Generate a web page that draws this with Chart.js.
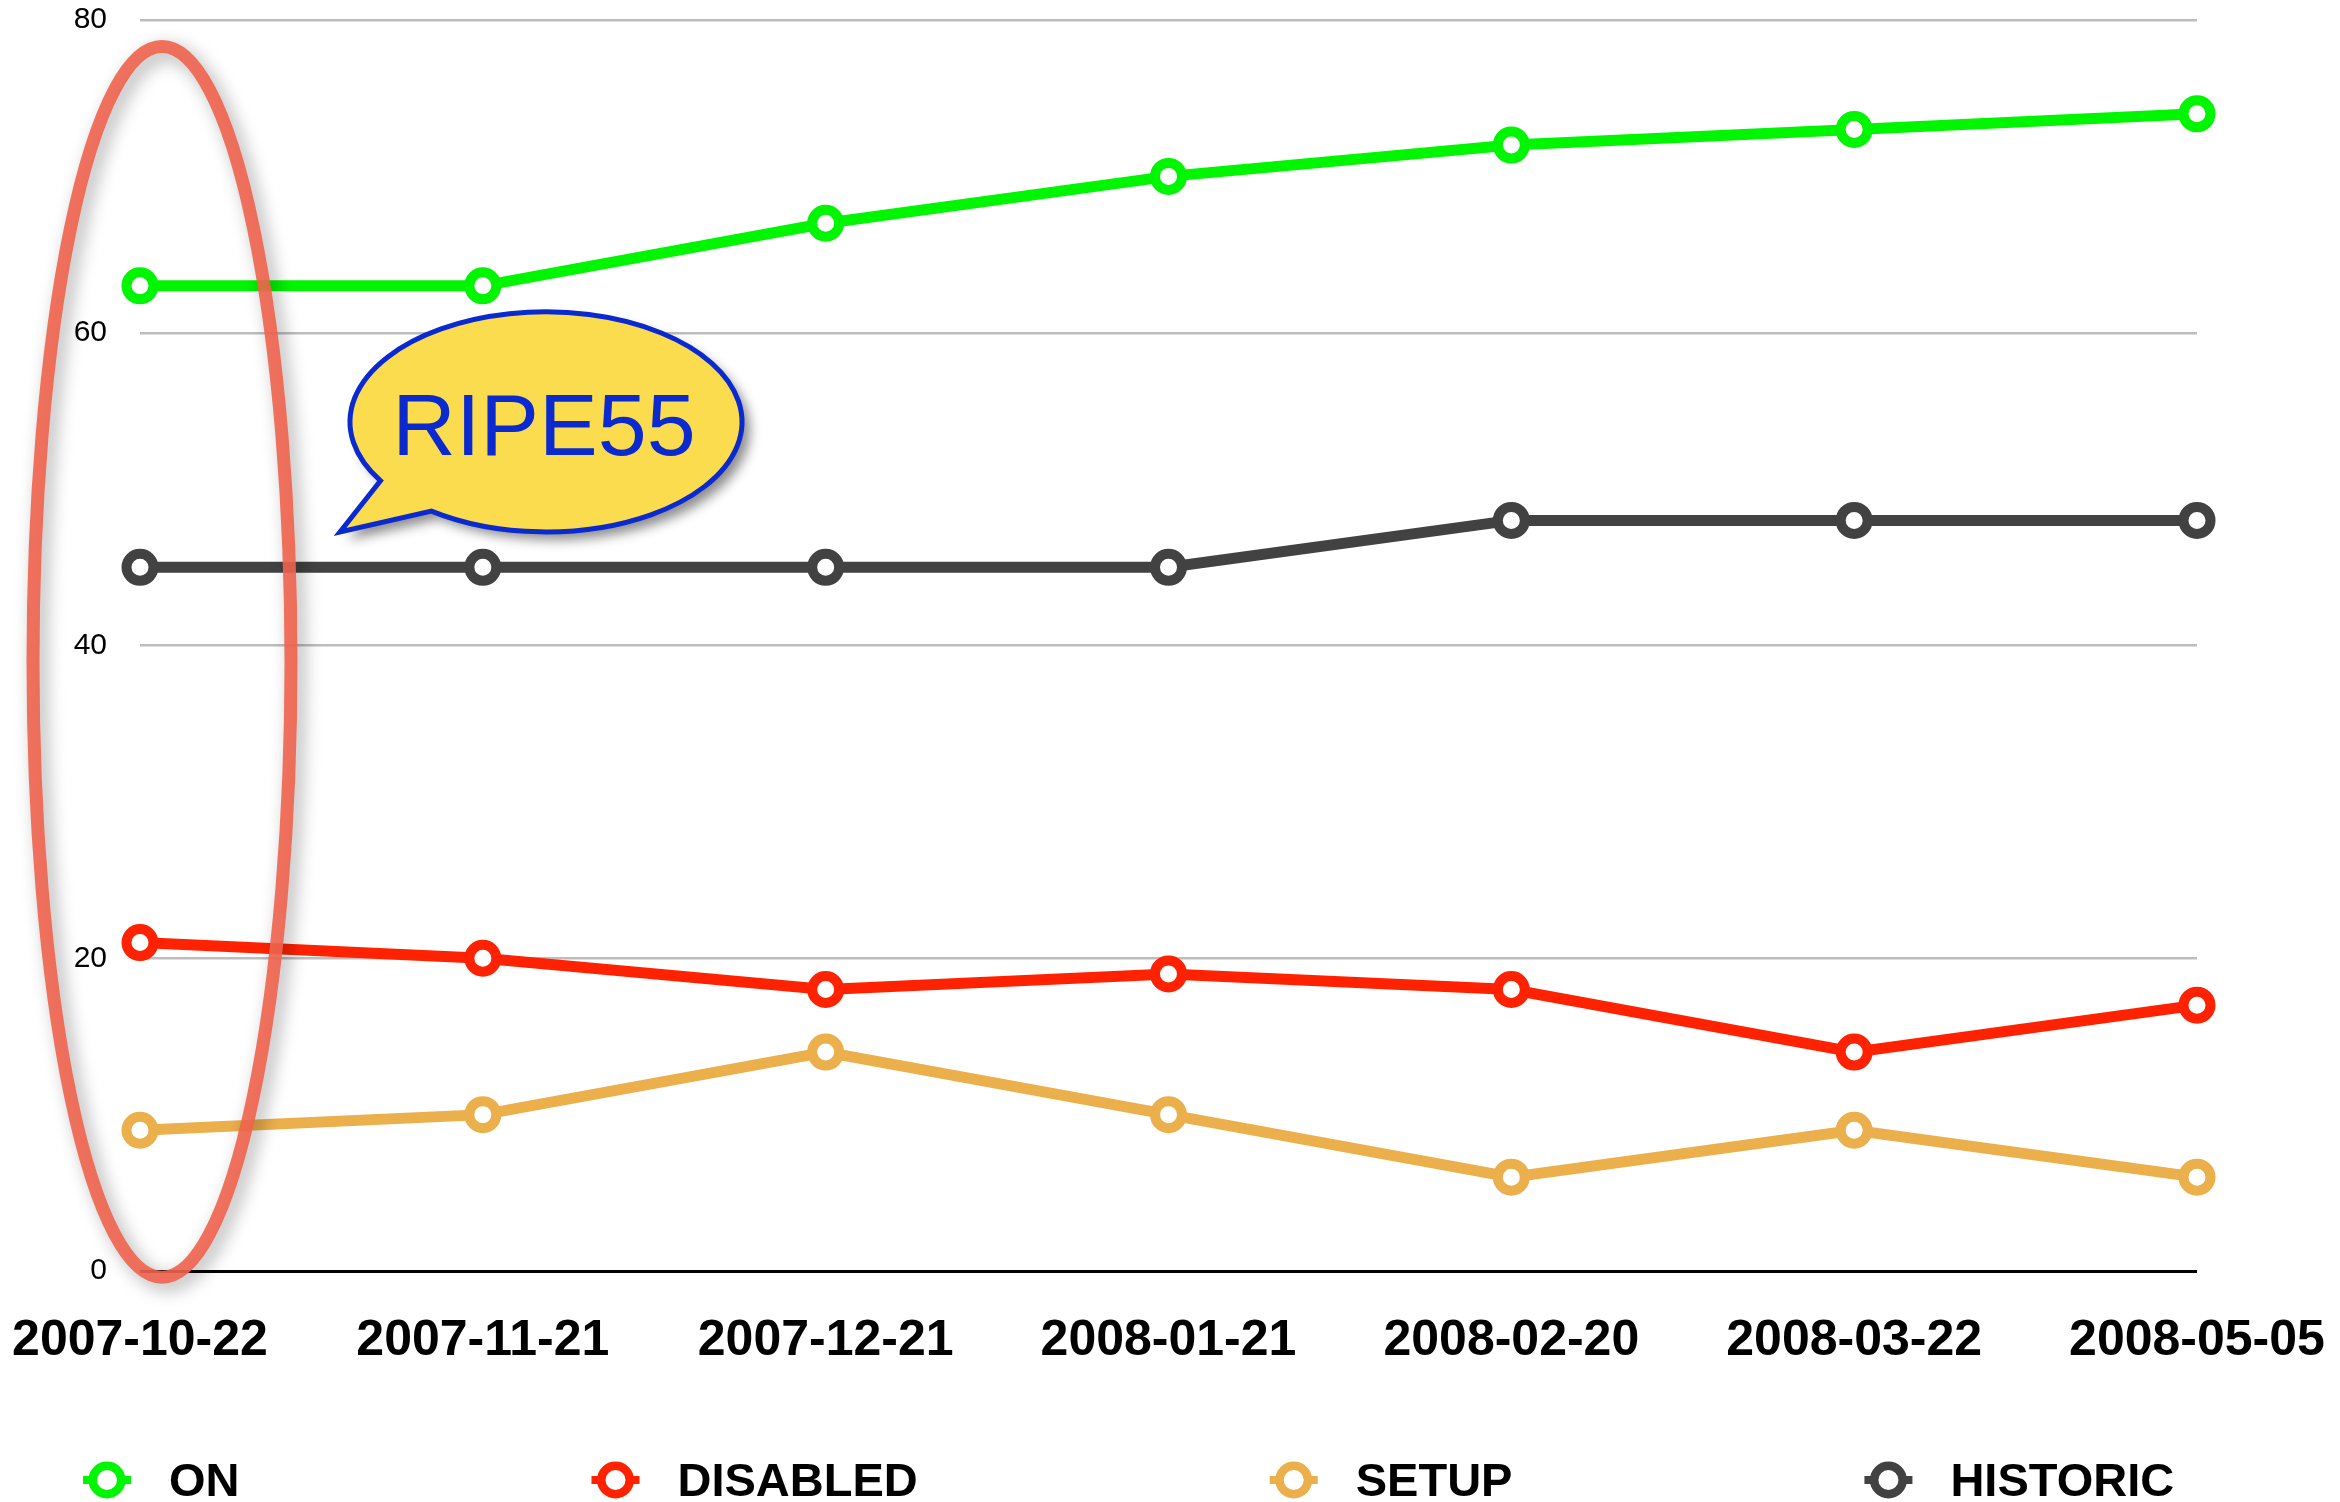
<!DOCTYPE html>
<html>
<head>
<meta charset="utf-8">
<script src="https://cdn.jsdelivr.net/npm/chart.js@4.4.1/dist/chart.umd.min.js"></script>
<style>
  html, body { margin: 0; padding: 0; background: #fff; }
  #wrap { width: 2340px; height: 1502px; position: relative; }
</style>
</head>
<body>
<div id="wrap"><canvas id="statusChart"></canvas></div>
<script>
const dates = ['2007-10-22', '2007-11-21', '2007-12-21', '2008-01-21', '2008-02-20', '2008-03-22', '2008-05-05'];
const onCounts = [63, 63, 67, 70, 72, 73, 74];
const disabledCounts = [21, 20, 18, 19, 18, 14, 17];
const setupCounts = [9, 10, 14, 10, 6, 9, 6];
const historicCounts = [45, 45, 45, 45, 48, 48, 48];
const yTicks = [0, 20, 40, 60, 80];
const calloutText = 'RIPE55';

const boldFont = "'Liberation Sans', Arial, sans-serif";
const plain = "'Liberation Sans', Arial, sans-serif";

function series(label, data, color) {
  return {
    label,
    data,
    borderColor: color,
    backgroundColor: color,
    borderWidth: 11,
    tension: 0,
    pointRadius: 13.5,
    pointHoverRadius: 13.5,
    pointBorderWidth: 10,
    pointBackgroundColor: '#ffffff',
    pointBorderColor: color,
    clip: false,
  };
}

// red ring round the first date and the RIPE55 speech bubble
const annotations = {
  id: 'annotations',
  afterDatasetsDraw(chart) {
    const { ctx, scales: { x, y } } = chart;
    ctx.save();

    // bubble
    const bx = x.getPixelForValue(0) + 406;
    const by = y.getPixelForValue(54.3);
    const rx = 196, ry = 110;
    const t1 = Math.atan2(0.527, -0.832);
    const t2 = Math.atan2(0.8, -0.577);
    ctx.beginPath();
    ctx.ellipse(bx, by, rx, ry, 0, t1, t2 + Math.PI * 2);
    ctx.lineTo(bx - 206, by + 110);
    ctx.closePath();
    ctx.shadowColor = 'rgba(0,0,0,0.45)';
    ctx.shadowBlur = 12;
    ctx.shadowOffsetX = 8;
    ctx.shadowOffsetY = 8;
    ctx.fillStyle = '#fcdc4f';
    ctx.fill();
    ctx.shadowColor = 'transparent';
    ctx.lineWidth = 5;
    ctx.lineJoin = 'miter';
    ctx.strokeStyle = '#0a2ad0';
    ctx.stroke();
    ctx.fillStyle = '#0a2ad0';
    ctx.font = `88px ${plain}`;
    ctx.textAlign = 'center';
    ctx.textBaseline = 'alphabetic';
    ctx.fillText(calloutText, bx - 2, by + 33);

    // ring
    const cx = x.getPixelForValue(0) + 22;
    const top = y.getPixelForValue(78.3);
    const bottom = y.getPixelForValue(-0.4);
    ctx.beginPath();
    ctx.ellipse(cx, (top + bottom) / 2, 129, (bottom - top) / 2, 0, 0, Math.PI * 2);
    ctx.shadowColor = 'rgba(0,0,0,0.35)';
    ctx.shadowBlur = 18;
    ctx.shadowOffsetX = 6;
    ctx.shadowOffsetY = 6;
    ctx.lineWidth = 13;
    ctx.strokeStyle = 'rgba(240,100,78,0.9)';
    ctx.stroke();
    ctx.restore();
  }
};

// legend row at the bottom, wide gaps like the original
const bottomLegend = {
  id: 'bottomLegend',
  afterDraw(chart) {
    const { ctx } = chart;
    ctx.save();
    ctx.font = `bold 47px ${boldFont}`;
    ctx.textBaseline = 'middle';
    ctx.textAlign = 'left';
    const y = 1480;
    let cx = 107;
    chart.data.datasets.forEach(ds => {
      ctx.strokeStyle = ds.borderColor;
      ctx.lineWidth = 8;
      ctx.beginPath();
      ctx.moveTo(cx - 24, y);
      ctx.lineTo(cx + 24, y);
      ctx.stroke();
      ctx.beginPath();
      ctx.arc(cx, y, 14.25, 0, Math.PI * 2);
      ctx.fillStyle = '#ffffff';
      ctx.fill();
      ctx.lineWidth = 8.5;
      ctx.stroke();
      ctx.fillStyle = '#000000';
      ctx.fillText(ds.label, cx + 62, y + 3);
      cx += 62 + ctx.measureText(ds.label).width + 376;
    });
    ctx.restore();
  }
};

const ctx = document.getElementById('statusChart').getContext('2d');
new Chart(ctx, {
  type: 'line',
  data: {
    labels: dates,
    datasets: [
      series('ON', onCounts, '#00f500'),
      series('DISABLED', disabledCounts, '#ff2200'),
      series('SETUP', setupCounts, '#ebaf4b'),
      series('HISTORIC', historicCounts, '#424242'),
    ],
  },
  options: {
    responsive: true,
    maintainAspectRatio: false,
    animation: false,
    devicePixelRatio: 1,
    layout: { autoPadding: false, padding: { top: 20, right: 143, bottom: 91, left: 0 } },
    scales: {
      x: {
        grid: { display: false, drawTicks: false },
        border: { display: false },
        afterFit(scale) {
          scale.paddingLeft = 0;
          scale.paddingRight = 0;
        },
        ticks: {
          color: '#000',
          font: { family: boldFont, size: 50, weight: 'bold' },
          padding: 40,
          autoSkip: false,
          maxRotation: 0,
        },
      },
      y: {
        min: 0,
        max: 80,
        afterBuildTicks(scale) {
          scale.ticks = yTicks.map(v => ({ value: v }));
        },
        afterFit(scale) {
          scale.width = 140;
          scale.paddingTop = 0;
          scale.paddingBottom = 0;
        },
        border: { display: false },
        grid: {
          drawTicks: false,
          color: c => (c.tick && c.tick.value === 0 ? '#000000' : '#bdbdbd'),
          lineWidth: c => (c.tick && c.tick.value === 0 ? 3 : 2.5),
        },
        ticks: {
          color: '#000',
          font: { family: plain, size: 30 },
          padding: 33,
        },
      },
    },
    plugins: {
      legend: { display: false },
      tooltip: { enabled: false },
    },
  },
  plugins: [annotations, bottomLegend],
});
</script>
</body>
</html>
